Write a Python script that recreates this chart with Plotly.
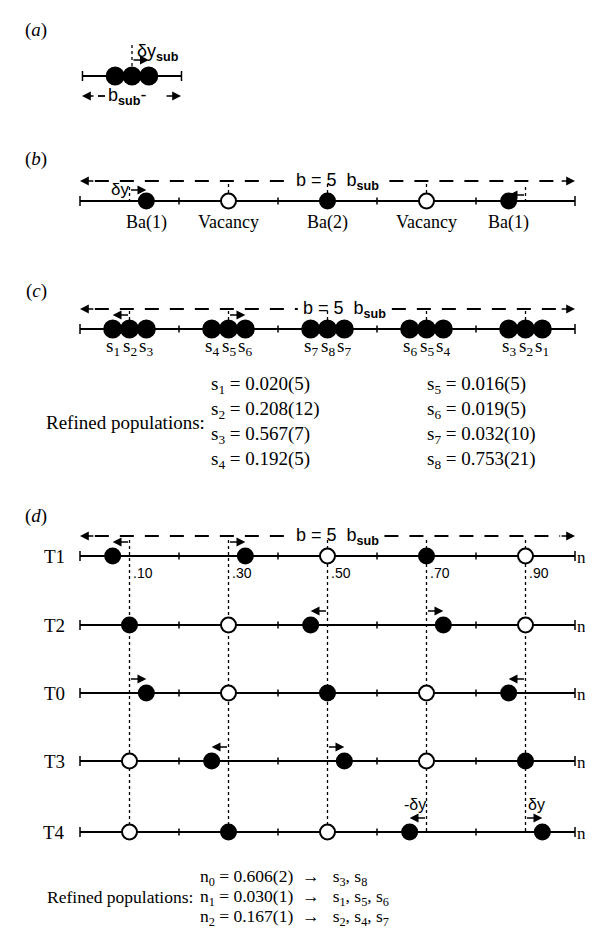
import plotly.graph_objects as go

# ---------------- data ----------------
site_centers = [0.1, 0.3, 0.5, 0.7, 0.9]          # fractions of b
tick_positions = [0.2, 0.4, 0.6, 0.8]
delta_y = 0.034                                      # displacement in units of b

# panel (a): subcell
a_offsets = [-1, 0, 1]

# panel (b)
b_occupied = [1, 0, 1, 0, 1]
b_shift = [1, 0, 0, 0, -1]
b_labels = ["Ba(1)", "Vacancy", "Ba(2)", "Vacancy", "Ba(1)"]

# panel (c)
c_site_labels = [["1", "2", "3"], ["4", "5", "6"], ["7", "8", "7"], ["6", "5", "4"], ["3", "2", "1"]]
c_arrow_shift = [-1, 1, 0, 0, 0]
c_pop_names = ["1", "2", "3", "4", "5", "6", "7", "8"]
c_pop_values = ["0.020(5)", "0.208(12)", "0.567(7)", "0.192(5)",
                "0.016(5)", "0.019(5)", "0.032(10)", "0.753(21)"]

# panel (d)
d_rows = ["T1", "T2", "T0", "T3", "T4"]
d_row_n = ["1", "2", "0", "2", "1"]
d_occupied = [[1, 1, 0, 1, 0],
              [1, 0, 1, 1, 0],
              [1, 0, 1, 0, 1],
              [0, 1, 1, 0, 1],
              [0, 1, 0, 1, 1]]
d_shift = [[-1, 1, 0, 0, 0],
           [0, 0, -1, 1, 0],
           [1, 0, 0, 0, -1],
           [0, -1, 1, 0, 0],
           [0, 0, 0, -1, 1]]
d_site_labels = [".10", ".30", ".50", ".70", ".90"]
n_names = ["0", "1", "2"]
n_values = ["0.606(2)", "0.030(1)", "0.167(1)"]
n_sites = [["3", "8"], ["1", "5", "6"], ["2", "4", "7"]]

# ---------------- layout constants (pixels) ----------------
W, H = 593, 928
X0, BPX = 72, 495
SERIF = "Liberation Serif"
SANS = "Liberation Sans"
SUB = "<sub><b>sub</b></sub>"

def px2x(p):
    return (p - X0) / BPX

fig = go.Figure()
ann = []

def text(x, y, s, size=18, family=SERIF, anchor="center", yanchor="middle"):
    ann.append(dict(x=x, y=y, text=s, showarrow=False, xref="x", yref="y",
                    xanchor=anchor, yanchor=yanchor, borderpad=0,
                    font=dict(family=family, size=size, color="black")))

def arrow(x_tail, x_head, y, width=1.6, size=1.1):
    ann.append(dict(x=x_head, y=y, ax=x_tail, ay=y, xref="x", yref="y",
                    axref="x", ayref="y", text="", showarrow=True,
                    arrowhead=2, arrowsize=size, arrowwidth=width,
                    arrowcolor="black"))

def lines(xs, ys, width=2, dash="solid", color="black"):
    fig.add_trace(go.Scatter(x=xs, y=ys, mode="lines", hoverinfo="skip",
                             line=dict(color=color, width=width, dash=dash),
                             showlegend=False))

def dots(xs, ys, filled, size=14):
    fig.add_trace(go.Scatter(
        x=xs, y=ys, mode="markers", hoverinfo="skip", showlegend=False,
        marker=dict(size=size, color=["black" if f else "white" for f in filled],
                    line=dict(color="black", width=2))))

def axis_line(y, x_start=0.0, x_end=1.0, ticks=tick_positions):
    lines([x_start, x_end], [y, y])
    xs, ys = [], []
    for t in [x_start, x_end]:
        xs += [t, t, None]; ys += [y - 5, y + 5, None]
    for t in ticks:
        xs += [t, t, None]; ys += [y - 3.5, y + 3.5, None]
    lines(xs, ys, width=1.5)

def dotted_v(x, y1, y2):
    lines([x, x], [y1, y2], width=1.3, dash="dot")

def b_arrow(y, gap_l, gap_r, label_x):
    lines([0.03, gap_l], [y, y], width=2, dash="14px,11px")
    lines([gap_r, 0.97], [y, y], width=2, dash="14px,11px")
    arrow(0.03, 0.0, y)
    arrow(0.97, 1.0, y)
    text(label_x, y, "b = 5  b" + SUB, size=18, family=SANS)

# ---------------- panel (a) ----------------
aoff = 0.005
ya = 68
text(px2x(28), 22, "(<i>a</i>)", size=19)
axis_line(ya, aoff, 0.2 + aoff, ticks=[])
a_center = 0.1 + aoff
dots([a_center + o * delta_y for o in a_offsets], [ya] * 3, [1, 1, 1], size=17)
dotted_v(a_center, 37, 58)
arrow(a_center, a_center + delta_y, 52)
text(px2x(128), 44, "δy" + SUB, size=18, family=SANS, anchor="left")
arrow(px2x(87), px2x(74), 88)
lines([px2x(90), px2x(97)], [88, 88], width=1.8)
text(px2x(99), 88, "b" + SUB + "-", size=18, family=SANS, anchor="left")
arrow(px2x(157), px2x(173), 88)

# ---------------- panel (b) ----------------
yb = 193
text(px2x(28), 151, "(<i>b</i>)", size=19)
b_arrow(173, 0.415, 0.625, 0.52)
axis_line(yb)
bx = [c + s * delta_y for c, s in zip(site_centers, b_shift)]
dots(bx, [yb] * 5, b_occupied, size=15)
for c, s in zip(site_centers, b_shift):
    if s:
        dotted_v(c, 179, 195)
        arrow(c, c + s * delta_y, 182 if s > 0 else 187)
    else:
        dotted_v(c, 176, 186)
for x, lab in zip(bx, b_labels):
    text(x, 214, lab, size=18)
text(px2x(112), 181, "δy", size=17, family=SANS)

# ---------------- panel (c) ----------------
yc = 321
text(px2x(28), 283, "(<i>c</i>)", size=19)
b_arrow(301, 0.44, 0.63, 0.535)
axis_line(yc)
cx, clab = [], []
for c, labs in zip(site_centers, c_site_labels):
    for o, l in zip(a_offsets, labs):
        cx.append(c + o * delta_y)
        clab.append(l)
dots(cx, [yc] * len(cx), [1] * len(cx), size=17)
for c, s in zip(site_centers, c_arrow_shift):
    dotted_v(c, 303, 313)
    if s:
        arrow(c, c + s * delta_y, 307)
for x, l in zip(cx, clab):
    text(x, 339, "s<sub>%s</sub>" % l, size=19)

# populations (c)
pop_rows_y = [377, 402, 427, 452]
text(px2x(198), 414, "Refined populations:", size=19, anchor="right")
for i, (n, v) in enumerate(zip(c_pop_names, c_pop_values)):
    col = i // 4
    xx = px2x(202) if col == 0 else px2x(418)
    text(xx, pop_rows_y[i % 4], "s<sub>%s</sub> = %s" % (n, v), size=19, anchor="left")

# ---------------- panel (d) ----------------
text(px2x(28), 508, "(<i>d</i>)", size=19)
b_arrow(528, 0.42, 0.615, 0.52)
row_y = [548, 617, 685, 753, 824]
for c, lab in zip(site_centers, d_site_labels):
    dotted_v(c, 532, row_y[-1])
    text(c + 0.005, 565, lab, size=14, family=SANS, anchor="left")
for r, (name, nn, occ, sh) in enumerate(zip(d_rows, d_row_n, d_occupied, d_shift)):
    y = row_y[r]
    axis_line(y)
    xs = [c + s * delta_y for c, s in zip(site_centers, sh)]
    dots(xs, [y] * 5, occ, size=15)
    for c, s in zip(site_centers, sh):
        if s:
            arrow(c, c + s * delta_y, y - 14)
    text(px2x(58), y, name, size=19, anchor="right")
    text(px2x(568), y + 3, "n<sub>%s</sub>" % nn, size=17, anchor="left")
# δy labels on T4
for c, s in zip(site_centers, d_shift[-1]):
    if s:
        text(c + (0.004 if s > 0 else 0.002), row_y[-1] - 28, ("δy" if s > 0 else "-δy"),
             size=16, family=SANS, anchor=("left" if s > 0 else "right"))

# bottom populations
bot_y = [869, 889, 909]
text(px2x(186), bot_y[1], "Refined populations:", size=17.5, anchor="right")
for i, (n, v, ss) in enumerate(zip(n_names, n_values, n_sites)):
    sites = ", ".join("s<sub>%s</sub>" % s for s in ss)
    text(px2x(191), bot_y[i], "n<sub>%s</sub> = %s  →   %s" % (n, v, sites), size=17.5, anchor="left")

fig.update_layout(
    width=W, height=H, margin=dict(l=0, r=0, t=0, b=0),
    paper_bgcolor="white", plot_bgcolor="white",
    xaxis=dict(range=[px2x(0), px2x(W)], visible=False, fixedrange=True),
    yaxis=dict(range=[H, 0], visible=False, fixedrange=True),
    annotations=ann, showlegend=False,
)
fig.write_html("out.html")
